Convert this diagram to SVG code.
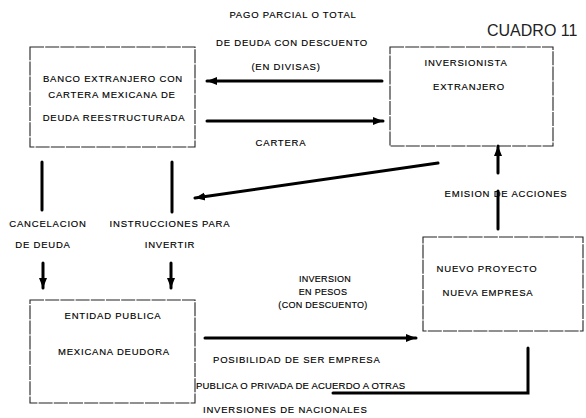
<svg xmlns="http://www.w3.org/2000/svg" width="586" height="418" viewBox="0 0 586 418">
<defs>
<marker id="ah" markerUnits="userSpaceOnUse" markerWidth="12" markerHeight="10" refX="10" refY="5" orient="auto">
<path d="M0,1 L10,5 L0,9 Z" fill="#000"/>
</marker>
<style>
.box{fill:none;stroke:#222;stroke-width:1.1;stroke-dasharray:14 1.2}
.t{font-family:"Liberation Sans",Arial,sans-serif;font-size:9.5px;fill:#000;stroke:#000;stroke-width:0.15;letter-spacing:0.8px}
.s{font-size:9px;letter-spacing:0.3px}
.m{text-anchor:middle}
.c{fill:none;stroke:#000;stroke-width:3;stroke-linecap:round}
.a{marker-end:url(#ah)}
</style>
</defs>
<rect width="586" height="418" fill="#fff"/>
<text x="487" y="36" font-family="Liberation Sans,Arial,sans-serif" font-size="16" fill="#222">CUADRO 11</text>
<g id="banco">
<rect class="box" x="30" y="47" width="165" height="100"/>
<text class="t m" x="113" y="82">BANCO EXTRANJERO CON</text>
<text class="t m" x="112" y="98">CARTERA MEXICANA DE</text>
<text class="t m" x="114" y="121">DEUDA REESTRUCTURADA</text>
</g>
<g id="inversionista">
<rect class="box" x="390" y="47" width="163" height="99"/>
<text class="t m" x="466" y="66">INVERSIONISTA</text>
<text class="t m" x="469" y="90">EXTRANJERO</text>
</g>
<g id="proyecto">
<rect class="box" x="423" y="237" width="160" height="94"/>
<text class="t m" x="487" y="272">NUEVO PROYECTO</text>
<text class="t m" x="488" y="296">NUEVA EMPRESA</text>
</g>
<g id="entidad">
<rect class="box" x="30" y="300" width="165" height="103"/>
<text class="t m" x="113" y="319">ENTIDAD PUBLICA</text>
<text class="t m" x="114" y="355">MEXICANA DEUDORA</text>
</g>
<g id="connectors">
<line class="c a" x1="382" y1="81" x2="207" y2="81"/>
<line class="c a" x1="207" y1="121" x2="383" y2="121"/>
<line class="c" x1="42" y1="162" x2="42" y2="210"/>
<line class="c" x1="172" y1="162" x2="172" y2="212"/>
<line class="c a" x1="43" y1="263" x2="43" y2="288"/>
<line class="c a" x1="171" y1="263" x2="171" y2="288"/>
<line class="c a" x1="438" y1="163" x2="195" y2="198"/>
<line class="c a" x1="498" y1="173" x2="498" y2="146"/>
<line class="c" x1="498" y1="191" x2="498" y2="229"/>
<line class="c a" x1="205" y1="338" x2="416" y2="338"/>
<polyline class="c" points="528,348 528,393 333,393"/>
</g>
<g id="labels">
<text class="t m" x="293" y="18">PAGO PARCIAL O TOTAL</text>
<text class="t m" x="292" y="46">DE DEUDA CON DESCUENTO</text>
<text class="t m" x="286" y="70">(EN DIVISAS)</text>
<text class="t m" x="281" y="146">CARTERA</text>
<text class="t m" x="48" y="227">CANCELACION</text>
<text class="t m" x="170" y="227">INSTRUCCIONES PARA</text>
<text class="t m" x="43" y="248">DE DEUDA</text>
<text class="t m" x="170" y="248">INVERTIR</text>
<text class="t m" x="506" y="197">EMISION DE ACCIONES</text>
<text class="t s m" x="325" y="282">INVERSION</text>
<text class="t s m" x="323" y="295">EN PESOS</text>
<text class="t s m" x="323" y="308">(CON DESCUENTO)</text>
<text class="t" x="213" y="363">POSIBILIDAD DE SER EMPRESA</text>
<text class="t" x="196" y="389" style="letter-spacing:0.2px">PUBLICA O PRIVADA DE ACUERDO A OTRAS</text>
<text class="t" x="203" y="413">INVERSIONES DE NACIONALES</text>
</g>
</svg>
